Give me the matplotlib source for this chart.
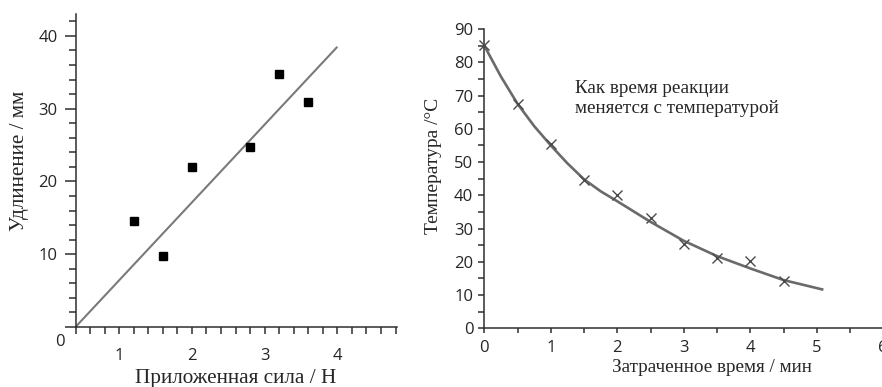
import matplotlib
matplotlib.use("Agg")
import matplotlib.pyplot as plt
import numpy as np

# ---- data: left chart ----
force = [1.2, 1.6, 2.0, 2.8, 3.2, 3.6]
extension = [14.5, 9.8, 22.0, 24.7, 34.7, 30.9]
fit_x = [0.4, 4.0]
fit_y = [0.0, 38.5]
left_xticks = [1, 2, 3, 4]
left_yticks = [10, 20, 30, 40]

# ---- data: right chart ----
time_min = [0, 0.5, 1.0, 1.5, 2.0, 2.5, 3.0, 3.5, 4.0, 4.5]
temperature = [85.2, 67.4, 55.4, 44.6, 40.1, 33.1, 25.3, 21.2, 20.2, 14.2]
curve_t = [0, 0.25, 0.5, 0.75, 1.0, 1.25, 1.5, 1.75, 2.0, 2.5, 3.0, 3.5, 4.0, 4.5, 5.08]
curve_temp = [85, 75.7, 67.5, 60.8, 55, 49.6, 44.8, 41.2, 38.2, 32.0, 26.3, 21.7, 18.0, 14.5, 11.7]
right_xticks = [0, 1, 2, 3, 4, 5, 6]
right_yticks = [0, 10, 20, 30, 40, 50, 60, 70, 80, 90]

W, H = 882, 387
fig = plt.figure(figsize=(W / 100, H / 100), dpi=100)
fig.patch.set_facecolor("white")

AX = "#2f2f2f"
TXT = "#262626"
serif = "Liberation Serif"
PX = 72 / 100  # points per pixel


def fx(px):
    return px / W


def fy(py):
    return 1 - py / H


# ---------- left axes ----------
xl0, xl1 = 0.4, 4.82
yl0, yl1 = 0, 43
left_px, right_px = 75.5, 397
top_px, bot_px = 14, 327
ax1 = fig.add_axes([fx(left_px), fy(bot_px), (right_px - left_px) / W, (bot_px - top_px) / H])
ax1.set_xlim(xl0, xl1)
ax1.set_ylim(yl0, yl1)
for s in ["top", "right"]:
    ax1.spines[s].set_visible(False)
for s in ["left", "bottom"]:
    ax1.spines[s].set_color(AX)
    ax1.spines[s].set_linewidth(1.1)

ax1.plot(fit_x, fit_y, color="#7a7a7a", lw=1.5, solid_capstyle="butt", zorder=2)
ax1.plot(force, extension, linestyle="none", marker="s", markersize=5.5,
         color="black", mec="black", mew=1.0, zorder=3)

ax1.set_xticks(left_xticks)
ax1.set_xticks(np.arange(0.4, 4.81, 0.2), minor=True)
ax1.set_yticks([0] + left_yticks)
ax1.set_yticks(np.arange(0, 43, 2), minor=True)
ax1.set_yticklabels([""] + [str(v) for v in left_yticks])
ax1.tick_params(axis="x", which="both", direction="out", length=7 * PX, width=1.1,
                color=AX, pad=14 * PX, labelsize=12, labelcolor=TXT)
ax1.tick_params(axis="y", which="major", direction="out", length=11 * PX, width=1.1,
                color=AX, pad=7 * PX, labelsize=12, labelcolor=TXT)
ax1.tick_params(axis="y", which="minor", direction="out", length=7 * PX, width=1.1, color=AX)
for lab in ax1.get_xticklabels() + ax1.get_yticklabels():
    lab.set_fontfamily("Open Sans")

fig.text(fx(60), fy(342), "0", fontsize=12, family="Open Sans", color=TXT,
         ha="center", va="center")
fig.text(fx(236), fy(379), "Приложенная сила / Н", fontsize=15.3, family=serif,
         color=TXT, ha="center", va="center")
fig.text(fx(20), fy(161), "Удлинение / мм", fontsize=15.2, family=serif,
         color=TXT, ha="center", va="center", rotation=90)

# ---------- right axes ----------
rx0, rx1 = 0, 6.15
rleft = 484.3
rscale = 66.5
rbot, rtop = 328.3, 29
ax2 = fig.add_axes([fx(rleft), fy(rbot), (rx1 - rx0) * rscale / W, (rbot - rtop) / H])
ax2.set_xlim(rx0, rx1)
ax2.set_ylim(0, 90)
for s in ["top", "right"]:
    ax2.spines[s].set_visible(False)
for s in ["left", "bottom"]:
    ax2.spines[s].set_color(AX)
    ax2.spines[s].set_linewidth(1.1)

ax2.plot(curve_t, curve_temp, color="#6a6a6a", lw=1.9, zorder=2)
ax2.plot(time_min, temperature, linestyle="none", marker="x", markersize=7,
         color="#4a4a4a", mew=1.0, zorder=3, clip_on=False)

ax2.set_xticks(right_xticks)
ax2.set_xticks(np.arange(0, 6.01, 0.5), minor=True)
ax2.set_yticks(right_yticks)
ax2.set_yticks(np.arange(0, 90.1, 5), minor=True)
ax2.tick_params(axis="x", which="both", direction="out", length=5 * PX, width=1.1,
                color=AX, pad=7 * PX, labelsize=12, labelcolor=TXT)
ax2.tick_params(axis="y", which="both", direction="out", length=6 * PX, width=1.1,
                color=AX, pad=5 * PX, labelsize=12, labelcolor=TXT)
for lab in ax2.get_xticklabels() + ax2.get_yticklabels():
    lab.set_fontfamily("Open Sans")

fig.text(fx(575), fy(98.5), "Как время реакции\nменяется с температурой", fontsize=13.8,
         family=serif, color=TXT, ha="left", va="center", linespacing=1.3)
fig.text(fx(712), fy(368), "Затраченное время / мин", fontsize=13.8, family=serif,
         color=TXT, ha="center", va="center")
fig.text(fx(433), fy(166), "Температура /°C", fontsize=14, family=serif,
         color=TXT, ha="center", va="center", rotation=90)

fig.savefig("out.png", dpi=100, facecolor="white")
